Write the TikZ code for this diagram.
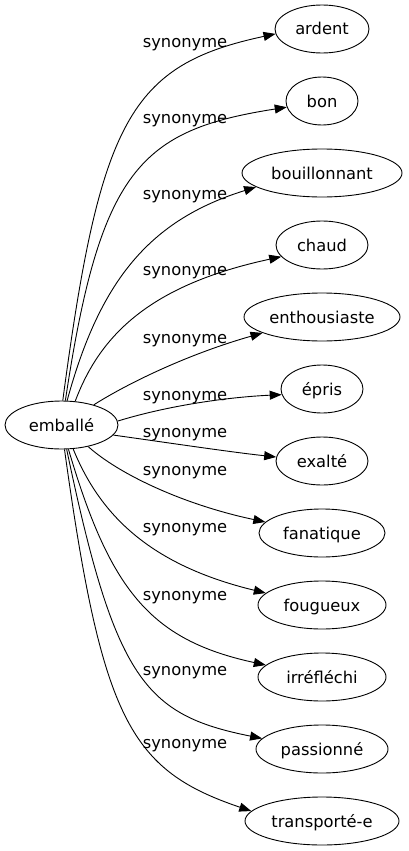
\documentclass[tikz,border=0pt]{standalone}
\usepackage{fontspec}
\setmainfont{DejaVu Sans}
\usetikzlibrary{arrows.meta,shapes.geometric}
\begin{document}
\begin{tikzpicture}[x=1pt,y=-1pt,
  word/.style={draw,ellipse,line width=0.9pt,inner sep=0pt,minimum height=48pt,
    font=\fontsize{16.3}{19}\selectfont,text height=12pt,text depth=0pt},
  lab/.style={anchor=base,inner sep=0pt,font=\fontsize{16.3}{19}\selectfont},
  edge/.style={line width=0.9pt,-{Triangle[length=12pt,width=9pt]}}]
\useasboundingbox (0,0) rectangle (408,851);
\node[word,minimum width=113pt] (emb) at (61.5,425) {emballé};
\node[word,minimum width=94pt] (ardent) at (322,29) {ardent};
\node[word,minimum width=72pt] (bon) at (322,101) {bon};
\node[word,minimum width=160pt] (bouil) at (322,173) {bouillonnant};
\node[word,minimum width=92pt] (chaud) at (322,245) {chaud};
\node[word,minimum width=156pt] (enth) at (322,317) {enthousiaste};
\node[word,minimum width=82pt] (epris) at (322,389) {épris};
\node[word,minimum width=92pt] (exalte) at (322,461) {exalté};
\node[word,minimum width=126pt] (fana) at (322,533) {fanatique};
\node[word,minimum width=128pt] (foug) at (322,605) {fougueux};
\node[word,minimum width=128pt] (irre) at (322,677) {irréfléchi};
\node[word,minimum width=132pt] (pass) at (322,749) {passionné};
\node[word,minimum width=154pt] (trans) at (322,821) {transporté-e};

\node[lab] (l1) at (185,48) {synonyme};
\node[lab] (l2) at (185,123) {synonyme};
\node[lab] (l3) at (185,199) {synonyme};
\node[lab] (l4) at (185,275) {synonyme};
\node[lab] (l5) at (185,343) {synonyme};
\node[lab] (l6) at (185,400) {synonyme};
\node[lab] (l7) at (185,437) {synonyme};
\node[lab] (l8) at (185,475) {synonyme};
\node[lab] (l9) at (185,532) {synonyme};
\node[lab] (l10) at (185,600) {synonyme};
\node[lab] (l11) at (185,675) {synonyme};
\node[lab] (l12) at (185,748) {synonyme};

\draw[edge] (emb.87.6) .. controls (100,120) and (130,65) .. (ardent.186);
\draw[edge] (emb.81.7) .. controls (100,170) and (140,130) .. (bon.190);
\draw[edge] (emb.77.8) .. controls (100,280) and (150,220) .. (bouil.192.7);
\draw[edge] (emb.60) .. controls (100,335) and (150,285) .. (chaud.196);
\draw[edge] (emb.32) .. controls (125,385) and (185,355) .. (enth.195);
\draw[edge] (emb.4.6) .. controls (170,405) and (230,397) .. (epris.188.5);
\draw[edge] (emb.-11) .. controls (170,443) and (230,452) .. (exalte.175);
\draw[edge] (emb.-39) .. controls (120,475) and (185,505) .. (fana.169);
\draw[edge] (emb.-64) .. controls (100,515) and (150,565) .. (foug.168);
\draw[edge] (emb.-74) .. controls (110,590) and (150,640) .. (irre.168);
\draw[edge] (emb.-78) .. controls (115,680) and (145,715) .. (pass.170);
\draw[edge] (emb.-83) .. controls (102,720) and (130,770) .. (trans.172);
\end{tikzpicture}
\end{document}
